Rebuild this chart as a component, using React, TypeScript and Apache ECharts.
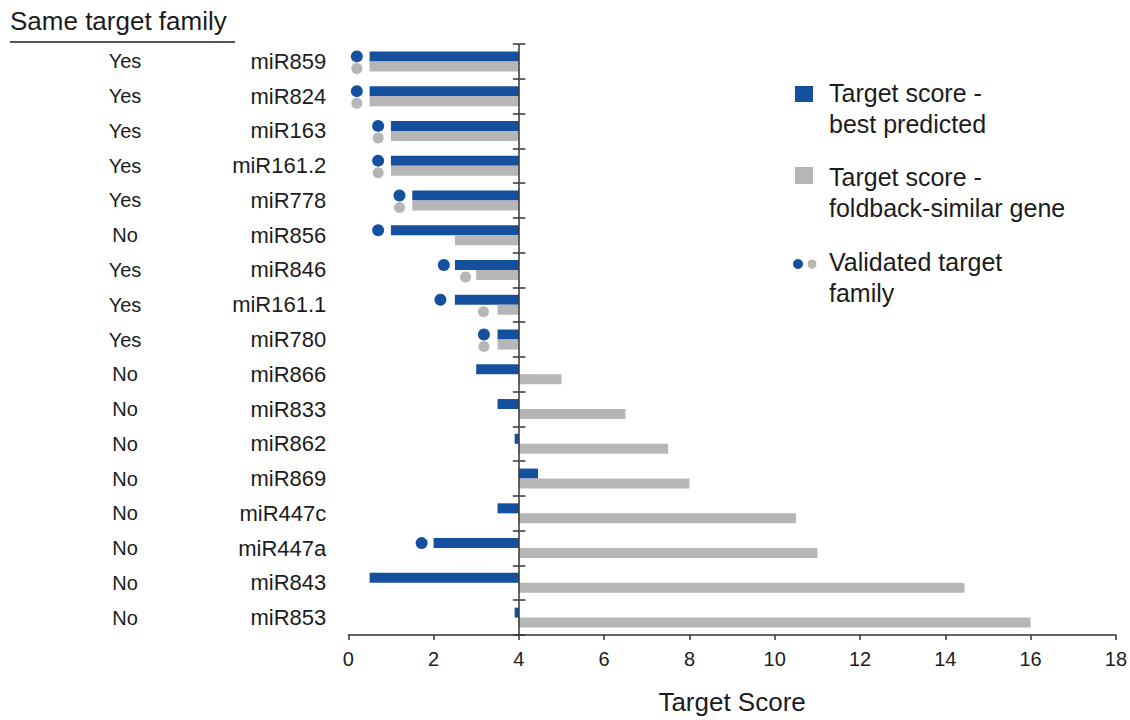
import React, { useEffect, useRef } from "react";
import * as echarts from "echarts";

const categories = [
  "miR859", "miR824", "miR163", "miR161.2", "miR778", "miR856", "miR846", "miR161.1",
  "miR780", "miR866", "miR833", "miR862", "miR869", "miR447c", "miR447a", "miR843", "miR853",
];
const sameTargetFamily = [
  "Yes", "Yes", "Yes", "Yes", "Yes", "No", "Yes", "Yes", "Yes",
  "No", "No", "No", "No", "No", "No", "No", "No",
];
const bestPredicted = [0.5, 0.5, 1.0, 1.0, 1.5, 1.0, 2.5, 2.5, 3.5, 3.0, 3.5, 3.9, 4.45, 3.5, 2.0, 0.5, 3.9];
const foldbackSimilar = [0.5, 0.5, 1.0, 1.0, 1.5, 2.5, 3.0, 3.5, 3.5, 5.0, 6.5, 7.5, 8.0, 10.5, 11.0, 14.45, 16.0];
const validatedBest: (number | null)[] = [0.2, 0.2, 0.7, 0.7, 1.2, 0.7, 2.24, 2.16, 3.18, null, null, null, null, null, 1.72, null, null];
const validatedFoldback: (number | null)[] = [0.2, 0.2, 0.7, 0.7, 1.2, null, 2.75, 3.17, 3.18, null, null, null, null, null, null, null, null];
const baseline = 4;
const xMin = 0;
const xMax = 18;
const xInterval = 2;

const BLUE = "#15509f";
const GRAY = "#b6b6b6";
const TEXT = "#1c1c1c";
const FONT = "'Liberation Sans', Arial, Helvetica, sans-serif";

export default function App() {
  const ref = useRef<HTMLDivElement>(null);

  useEffect(() => {
    if (!ref.current) return;
    const chart = echarts.init(ref.current, undefined, { renderer: "svg" });

    const gridLeft = 348.3;
    const gridRight = 12;
    const gridTop = 44;
    const gridBottom = 80;
    const gridWidth = 1130 - gridLeft - gridRight;
    const baselineOffset = -((baseline - xMin) / (xMax - xMin)) * gridWidth;

    const shift = (v: number) => v - baseline;

    const dotData = (arr: (number | null)[]) =>
      arr
        .map((v, i) => (v == null ? null : [shift(v), categories[i]]))
        .filter((d) => d !== null);

    const option: any = {
      animation: false,
      backgroundColor: "#ffffff",
      textStyle: { fontFamily: FONT },
      grid: { left: gridLeft, right: gridRight, top: gridTop, bottom: gridBottom, containLabel: false },
      xAxis: {
        type: "value",
        min: xMin - baseline,
        max: xMax - baseline,
        interval: xInterval,
        name: "Target Score",
        nameLocation: "middle",
        nameGap: 54,
        nameTextStyle: { fontSize: 26, color: TEXT, fontFamily: FONT },
        axisLine: { show: true, onZero: false, lineStyle: { color: "#333", width: 1.5 } },
        axisTick: { show: true, length: 5, lineStyle: { color: "#333", width: 1.5 } },
        axisLabel: {
          fontSize: 20,
          color: TEXT,
          margin: 14,
          fontFamily: FONT,
          formatter: (v: number) => String(Math.round(v + baseline)),
        },
        splitLine: { show: false },
      },
      yAxis: [
        {
          type: "category",
          data: categories,
          inverse: true,
          position: "left",
          z: 10,
          axisLine: { show: true, onZero: true, lineStyle: { color: "#333", width: 1.5 } },
          axisTick: { show: true, length: 6, inside: false, alignWithLabel: false, lineStyle: { color: "#333", width: 1.5 } },
          axisLabel: { show: false },
          splitLine: { show: false },
        },
        {
          type: "category",
          data: categories,
          inverse: true,
          position: "left",
          offset: 0,
          axisLine: { show: false, onZero: false },
          axisTick: { show: false },
          axisLabel: { fontSize: 22, color: TEXT, margin: 22, fontFamily: FONT },
          splitLine: { show: false },
        },
        {
          type: "category",
          data: sameTargetFamily,
          inverse: true,
          position: "left",
          offset: 0,
          axisLine: { show: false, onZero: false },
          axisTick: { show: false },
          axisLabel: { fontSize: 20, color: TEXT, margin: gridLeft - 125, align: "center", fontFamily: FONT, interval: 0 },
          splitLine: { show: false },
        },
        {
          type: "category",
          data: categories,
          inverse: true,
          position: "left",
          offset: baselineOffset,
          z: 10,
          axisLine: { show: false, onZero: false },
          axisTick: { show: true, length: 6, inside: true, lineStyle: { color: "#333", width: 1.5 } },
          axisLabel: { show: false },
          splitLine: { show: false },
        },
      ],
      series: [
        {
          name: "Target score - best predicted",
          type: "bar",
          yAxisIndex: 0,
          data: bestPredicted.map(shift),
          barWidth: 10,
          barGap: "0%",
          itemStyle: { color: BLUE },
          z: 2,
        },
        {
          name: "Target score - foldback-similar gene",
          type: "bar",
          yAxisIndex: 0,
          data: foldbackSimilar.map(shift),
          barWidth: 10,
          barGap: "0%",
          itemStyle: { color: GRAY },
          z: 2,
        },
        {
          name: "Validated (best predicted)",
          type: "scatter",
          yAxisIndex: 0,
          data: dotData(validatedBest),
          symbol: "circle",
          symbolSize: 12,
          symbolOffset: [0, -5],
          itemStyle: { color: BLUE, opacity: 1 },
          z: 3,
        },
        {
          name: "Validated (foldback-similar)",
          type: "scatter",
          yAxisIndex: 0,
          data: dotData(validatedFoldback),
          symbol: "circle",
          symbolSize: 11,
          symbolOffset: [0, 7],
          itemStyle: { color: GRAY, opacity: 1 },
          z: 3,
        },
      ],
      graphic: [
        {
          type: "text",
          left: 10,
          top: 8,
          style: { text: "Same target family", font: `26px ${FONT}`, fill: TEXT },
        },
        {
          type: "line",
          shape: { x1: 10, y1: 42, x2: 235, y2: 42 },
          style: { stroke: "#555", lineWidth: 2 },
        },
        { type: "rect", shape: { x: 795, y: 86, width: 18, height: 16 }, style: { fill: BLUE } },
        {
          type: "text",
          x: 829,
          y: 77,
          style: { text: "Target score -\nbest predicted", font: `25px ${FONT}`, lineHeight: 31, fill: TEXT, verticalAlign: "top" },
        },
        { type: "rect", shape: { x: 795, y: 167, width: 18, height: 17 }, style: { fill: GRAY } },
        {
          type: "text",
          x: 829,
          y: 161,
          style: { text: "Target score -\nfoldback-similar gene", font: `25px ${FONT}`, lineHeight: 31, fill: TEXT, verticalAlign: "top" },
        },
        { type: "circle", shape: { cx: 798, cy: 264, r: 5 }, style: { fill: BLUE } },
        { type: "circle", shape: { cx: 812, cy: 264, r: 4.5 }, style: { fill: GRAY } },
        {
          type: "text",
          x: 829,
          y: 246,
          style: { text: "Validated target\nfamily", font: `25px ${FONT}`, lineHeight: 31, fill: TEXT, verticalAlign: "top" },
        },
      ],
    };

    chart.setOption(option);
    return () => chart.dispose();
  }, []);

  return (
    <div
      ref={ref}
      style={{ position: "absolute", left: 0, top: 0, width: 1130, height: 720, background: "#fff" }}
    />
  );
}
